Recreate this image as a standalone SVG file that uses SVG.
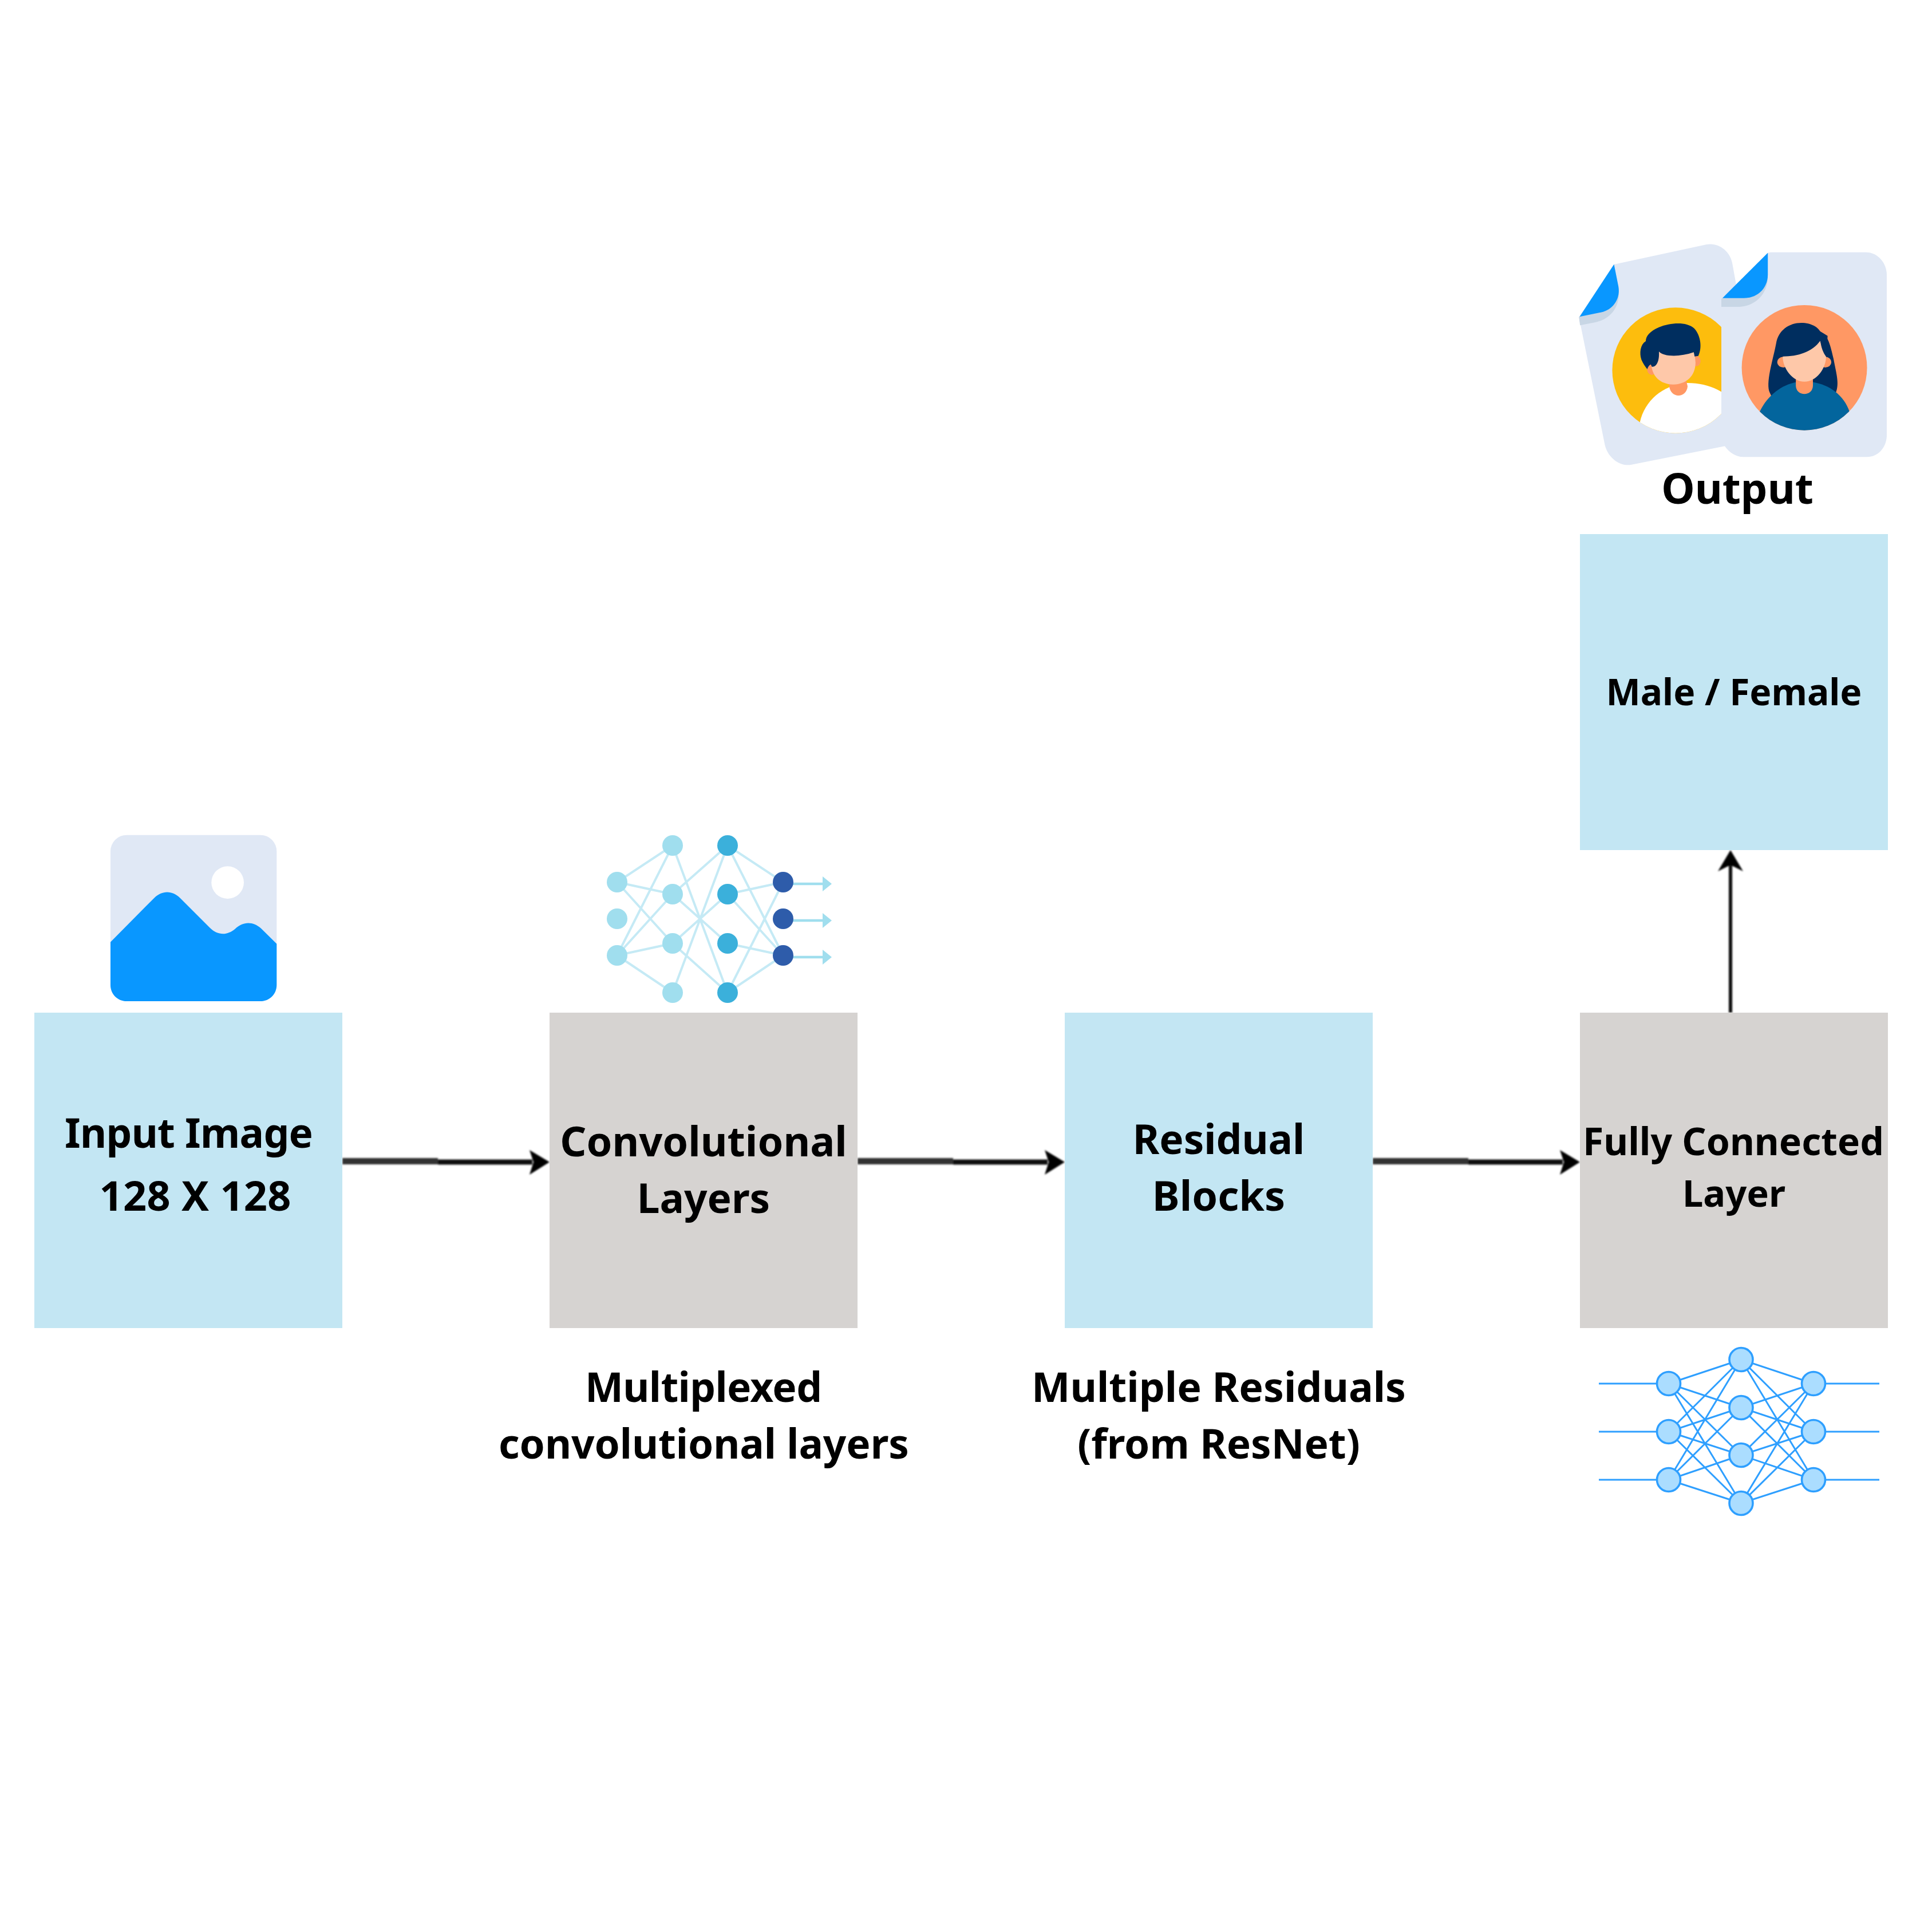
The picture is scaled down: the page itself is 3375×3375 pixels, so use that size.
<svg xmlns="http://www.w3.org/2000/svg" width="3375" height="3375" viewBox="0 0 3375 3375">
<defs>
<filter id="soft" x="0" y="0" width="3375" height="3375" filterUnits="userSpaceOnUse"><feGaussianBlur stdDeviation="1.4"/></filter>
<clipPath id="c-yellow"><ellipse cx="541" cy="741" rx="289" ry="329"/></clipPath>
<clipPath id="c-orange"><ellipse cx="1129" cy="727" rx="286" ry="328"/></clipPath>
</defs>
<style>
text{font-family:"Noto Sans","Open Sans","Liberation Sans",sans-serif;font-weight:700;fill:#000;text-anchor:middle}
.blue{fill:#c3e6f3}
.grey{fill:#d6d3d1}
.conn{fill:none}
.head{fill:#000}
.n1{stroke:#c5eaf5;stroke-width:4;fill:none}
.n2{stroke:#2e9fff;stroke-width:3;fill:none}
.c2{fill:#abddff;stroke:#2e9fff;stroke-width:3.6}
.ca{fill:#a0deee}
.cb{fill:#3bb0db}
.cc{fill:#2e5caa}
.doc{fill:#e0e8f5}
.ico{fill:#0997ff}
</style>
<rect width="3375" height="3375" fill="#fff"/>

<g id="connectors" filter="url(#soft)">
<path class="conn" stroke="#333" stroke-width="11" d="M598 2028.5H765"/>
<path class="conn" stroke="#111" stroke-width="9" d="M765 2030H930"/>
<path class="head" d="M925 2009L960 2030L925 2052L932 2030Z"/>
<path class="conn" stroke="#333" stroke-width="11" d="M1498 2028.5H1665"/>
<path class="conn" stroke="#111" stroke-width="9" d="M1665 2030H1830"/>
<path class="head" d="M1825 2009L1860 2030L1825 2052L1832 2030Z"/>
<path class="conn" stroke="#333" stroke-width="11" d="M2398 2028.5H2565"/>
<path class="conn" stroke="#111" stroke-width="9" d="M2565 2030H2730"/>
<path class="head" d="M2725 2009L2760 2030L2725 2052L2732 2030Z"/>
<path class="conn" stroke="#111" stroke-width="6" d="M3023 1769V1510"/>
<path class="head" d="M3023 1485L3045 1522L3023 1511L3001 1522Z"/>
</g>

<g id="input-image">
<rect class="blue" x="60" y="1769" width="538" height="551"/>
<text x="330" y="2005" font-size="71" textLength="434">Input Image</text>
<text x="341" y="2115" font-size="72" textLength="335">128 X 128</text>
<g transform="translate(150 1430) scale(.3333)">
<rect class="doc" x="129" y="86" width="871" height="871" rx="85"/>
<circle cx="743" cy="335" r="85" fill="#fff"/>
<path class="ico" d="M129 647L358 416C400 375 452 375 494 416L650 572C692 613 740 613 782 578C825 538 875 538 918 575L1000 656V872C1000 920 962 957 915 957H214C167 957 129 920 129 872Z"/>
</g>
</g>

<g id="conv-layers">
<rect class="grey" x="960" y="1769" width="538" height="551"/>
<text x="1229" y="2020" font-size="72">Convolutional</text>
<text x="1229" y="2119" font-size="71">Layers</text>
<text x="1229" y="2449" font-size="71" textLength="414">Multiplexed</text>
<text x="1229.5" y="2548" font-size="71" textLength="717">convolutional layers</text>
<g>
<path class="n1" d="M1078 1541L1175 1477M1078 1541L1175 1562M1078 1541L1175 1648M1078 1669L1175 1477M1078 1669L1175 1562M1078 1669L1175 1648M1078 1669L1175 1734M1175 1477L1271 1734M1175 1734L1271 1477M1175 1562L1271 1477M1175 1562L1271 1648M1175 1648L1271 1562M1175 1648L1271 1734M1271 1477L1368 1541M1271 1477L1368 1669M1271 1562L1368 1541M1271 1562L1368 1669M1271 1648L1368 1669M1271 1734L1368 1541M1271 1734L1368 1669"/>
<path d="M1368 1544H1440M1368 1608H1440M1368 1672H1440" stroke="#a0deee" stroke-width="4.5" fill="none"/>
<path d="M1437 1531L1453 1544L1437 1557ZM1437 1595L1453 1608L1437 1621ZM1437 1659L1453 1672L1437 1685Z" fill="#a0deee"/>
<circle class="ca" cx="1078" cy="1541" r="18"/><circle class="ca" cx="1078" cy="1605" r="18"/><circle class="ca" cx="1078" cy="1669" r="18"/>
<circle class="ca" cx="1175" cy="1477" r="18"/><circle class="ca" cx="1175" cy="1562" r="18"/><circle class="ca" cx="1175" cy="1648" r="18"/><circle class="ca" cx="1175" cy="1734" r="18"/>
<circle class="cb" cx="1271" cy="1477" r="18"/><circle class="cb" cx="1271" cy="1562" r="18"/><circle class="cb" cx="1271" cy="1648" r="18"/><circle class="cb" cx="1271" cy="1734" r="18"/>
<circle class="cc" cx="1368" cy="1541" r="18"/><circle class="cc" cx="1368" cy="1605" r="18"/><circle class="cc" cx="1368" cy="1669" r="18"/>
</g>
</g>

<g id="residual-blocks">
<rect class="blue" x="1860" y="1769" width="538" height="551"/>
<text x="2129" y="2016" font-size="71">Residual</text>
<text x="2129" y="2115" font-size="72">Blocks</text>
<text x="2129" y="2449" font-size="71.5">Multiple Residuals</text>
<text x="2129" y="2548" font-size="71">(from ResNet)</text>
</g>

<g id="fully-connected">
<rect class="grey" x="2760" y="1769" width="538" height="551"/>
<text x="3028" y="2018" font-size="66">Fully Connected</text>
<text x="3029" y="2108" font-size="65">Layer</text>
<g>
<path class="n2" d="M2793 2417H2915M2793 2501H2915M2793 2585H2915M3168 2417H3283M3168 2501H3283M3168 2585H3283
M2915 2417L3041.5 2375M2915 2417L3041.5 2459M2915 2417L3041.5 2542M2915 2417L3041.5 2626
M2915 2501L3041.5 2375M2915 2501L3041.5 2459M2915 2501L3041.5 2542M2915 2501L3041.5 2626
M2915 2585L3041.5 2375M2915 2585L3041.5 2459M2915 2585L3041.5 2542M2915 2585L3041.5 2626
M3168 2417L3041.5 2375M3168 2417L3041.5 2459M3168 2417L3041.5 2542M3168 2417L3041.5 2626
M3168 2501L3041.5 2375M3168 2501L3041.5 2459M3168 2501L3041.5 2542M3168 2501L3041.5 2626
M3168 2585L3041.5 2375M3168 2585L3041.5 2459M3168 2585L3041.5 2542M3168 2585L3041.5 2626"/>
<circle class="c2" cx="2915" cy="2417" r="20.5"/><circle class="c2" cx="2915" cy="2501" r="20.5"/><circle class="c2" cx="2915" cy="2585" r="20.5"/>
<circle class="c2" cx="3041.5" cy="2375" r="20.5"/><circle class="c2" cx="3041.5" cy="2459" r="20.5"/><circle class="c2" cx="3041.5" cy="2542" r="20.5"/><circle class="c2" cx="3041.5" cy="2626" r="20.5"/>
<circle class="c2" cx="3168" cy="2417" r="20.5"/><circle class="c2" cx="3168" cy="2501" r="20.5"/><circle class="c2" cx="3168" cy="2585" r="20.5"/>
</g>
</g>

<g id="male-female">
<rect class="blue" x="2760" y="933" width="538" height="552"/>
<text x="3029" y="1232" font-size="64">Male / Female</text>
</g>

<g id="output">
<text x="3035" y="880" font-size="74">Output</text>
<g transform="translate(2720 400) scale(.3827 .3333)">
<path class="doc" d="M262 185L680 82C735 68 790 115 800 180L830 370L770 1137L340 1235C285 1248 230 1195 218 1130L100 462Z"/>
<path d="M100 462L105 505L175 489C255 470 290 390 280 320L240 300Z" fill="#c8d6e5"/>
<path class="ico" d="M260 185L103 460L205 436C260 420 290 360 280 300Z"/>
<ellipse cx="541" cy="741" rx="289" ry="329" fill="#fdbd0d"/>
<g clip-path="url(#c-yellow)">
<path d="M378 1070V1013C400 900 480 820 590 807C700 805 790 860 840 960V1080Z" fill="#fff"/>
</g>
<path d="M512 800V820C515 890 590 890 596 825L590 795Z" fill="#ff9864"/>
<ellipse cx="433" cy="735" rx="22" ry="30" fill="#ff9864"/>
<ellipse cx="635" cy="692" rx="20" ry="28" fill="#ff9864"/>
<path d="M430 700C430 770 470 815 530 815C590 815 632 770 632 700L625 620L470 620Z" fill="#fec8a9"/>
<path d="M405 588C380 605 375 650 385 685C392 705 403 722 412 735C415 722 422 712 428 710L433 722C455 725 468 690 465 642C485 670 560 672 624 646L628 668L645 665C662 625 658 560 625 520C590 485 520 490 465 515C425 535 405 560 405 588Z" fill="#002e5f"/>
<path class="doc" d="M750 408L755 362L962 125L975 122H1410C1465 122 1505 180 1505 240V1080C1505 1145 1465 1195 1415 1195H850C815 1195 785 1170 765 1137L750 1100Z"/>
<path d="M750 365V408H825C905 408 962 340 962 250L900 300Z" fill="#c8d6e5"/>
<path class="ico" d="M962 125L755 362H855C915 362 962 310 962 240Z"/>
<ellipse cx="1129" cy="727" rx="286" ry="328" fill="#ff9864"/>
<g clip-path="url(#c-orange)">
<path d="M1000 600C1010 530 1060 492 1115 492C1160 492 1195 515 1203 543C1235 545 1250 620 1262 680C1275 760 1290 810 1272 860L1270 880H980L972 860C950 810 985 690 1000 600Z" fill="#002e5f"/>
<path d="M925 958C960 870 1030 815 1090 803H1170C1240 815 1310 870 1335 958L1340 1090H920Z" fill="#03659d"/>
<path d="M1090 780V820C1090 880 1168 880 1168 820V780Z" fill="#ff9864"/>
<circle cx="1033" cy="698" r="28" fill="#ff9864"/>
<circle cx="1224" cy="698" r="28" fill="#ff9864"/>
<path d="M1030 668C1030 730 1075 800 1129 800C1185 800 1228 730 1228 668L1200 585L1100 640Z" fill="#fec8a9"/>
<path d="M1002 668H1030C1100 668 1165 645 1202 585C1205 620 1215 650 1228 668L1235 560L1150 500L1040 520Z" fill="#002e5f"/>
</g>
</g>
</g>
</svg>
